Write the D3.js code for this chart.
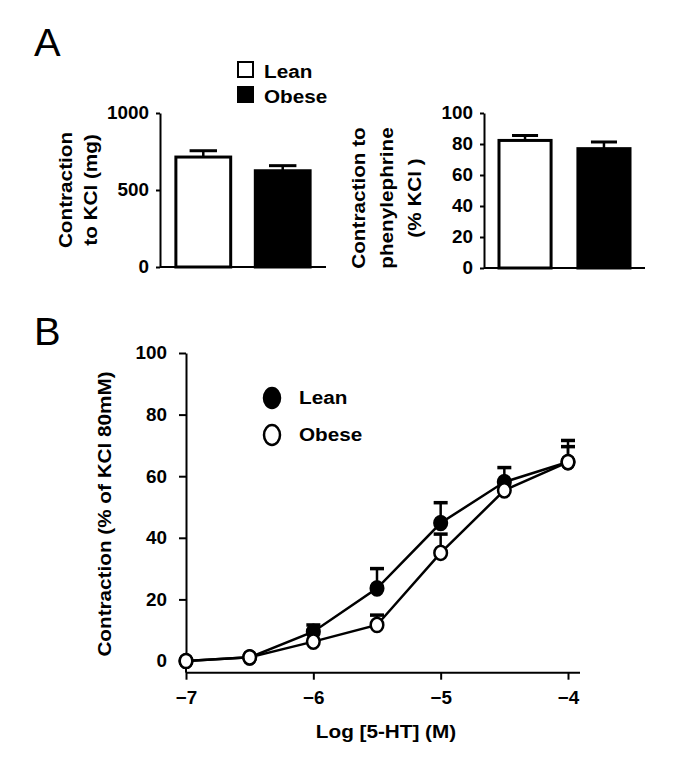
<!DOCTYPE html>
<html><head><meta charset="utf-8">
<script src="https://cdn.jsdelivr.net/npm/d3@7"></script>
<style>body{margin:0;background:#fff}text{font-family:"Liberation Sans",Arial,sans-serif}</style>
</head><body>
<script>
// ---- Data ----
const groups = ["Lean", "Obese"];
const kclMean = [714, 625];
const kclErr = [41, 33];
const pheMean = [82.3, 77];
const pheErr = [3.2, 4.3];
const logConc = [-7, -6.5, -6, -5.5, -5, -4.5, -4];
const leanMean = [0, 1.2, 9.5, 23.6, 44.8, 58.1, 64.6];
const leanErr = [0, 0, 2.2, 6.4, 6.6, 4.7, 7.0];
const obeseMean = [0, 1.2, 6.3, 11.7, 35.1, 55.4, 64.6];
const obeseErr = [0, 0, 0, 3.2, 6.1, 0, 5.0];
const kclTicks = [0, 500, 1000];
const pheTicks = [0, 20, 40, 60, 80, 100];
const crcYTicks = [0, 20, 40, 60, 80, 100];
const crcXTicks = [-7, -6, -5, -4];

const W = 685, H = 767;
const FS = 18.5, SX = 1.12, NSX = 1.02;
const svg = d3.select("body").append("svg").attr("width", W).attr("height", H);

function T(x, y, str, o = {}) {
  const g = svg.append("g").attr("transform",
    `translate(${x},${y}) rotate(${o.rot || 0}) scale(${o.sx || SX},1)`);
  const t = g.append("text").attr("text-anchor", o.anchor || "start")
    .attr("font-size", o.size || FS).attr("font-weight", o.weight || "bold").attr("fill", "#000");
  const lines = Array.isArray(str) ? str : [str];
  lines.forEach((l, i) => t.append("tspan").attr("x", 0).attr("dy", i === 0 ? 0 : (o.gap || 0)).text(l));
  return t;
}

function styleAxis(g) {
  g.selectAll(".domain").attr("stroke", "#000").attr("stroke-width", 2);
  g.selectAll(".tick line").attr("stroke", "#000").attr("stroke-width", 2);
  g.selectAll(".tick text").attr("font-size", FS).attr("font-weight", "bold").attr("fill", "#000")
   .attr("font-family", '"Liberation Sans",Arial,sans-serif')
   .each(function () {
     const s = d3.select(this); const x = +s.attr("x") || 0;
     s.attr("x", 0).attr("transform", `translate(${x},0) scale(${NSX},1)`);
   });
}

// Panel letters
T(34, 56, "A", {size: 38, weight: "normal", sx: 1.05});
T(34, 345, "B", {size: 38, weight: "normal", sx: 1.05});

// ---- Bar chart helper ----
function barChart(opts) {
  const {x0, x1, y0, y1, dom, ticks, means, errs, band} = opts;
  const y = d3.scaleLinear().domain(dom).range([y0, y1]);
  const x = d3.scaleBand().domain(groups).range([x0, x1]).paddingInner(band[0]).paddingOuter(band[1]);
  const g = svg.append("g");
  groups.forEach((k, i) => {
    const cx = x(k) + x.bandwidth() / 2;
    g.append("line").attr("x1", cx).attr("x2", cx).attr("y1", y(means[i])).attr("y2", y(means[i] + errs[i]))
      .attr("stroke", "#000").attr("stroke-width", 2.5);
    g.append("line").attr("x1", cx - x.bandwidth() * 0.25).attr("x2", cx + x.bandwidth() * 0.25)
      .attr("y1", y(means[i] + errs[i])).attr("y2", y(means[i] + errs[i]))
      .attr("stroke", "#000").attr("stroke-width", 3);
  });
  g.selectAll("rect.bar").data(groups).join("rect")
    .attr("x", d => x(d)).attr("width", x.bandwidth())
    .attr("y", (d, i) => y(means[i])).attr("height", (d, i) => y(0) - y(means[i]))
    .attr("fill", (d, i) => i === 0 ? "#fff" : "#000").attr("stroke", "#000").attr("stroke-width", 3);
  const ya = svg.append("g").attr("transform", `translate(${x0},0)`)
    .call(d3.axisLeft(y).tickValues(ticks).tickFormat(d3.format("d")).tickSize(4).tickSizeOuter(0).tickPadding(7));
  styleAxis(ya);
  svg.append("line").attr("x1", x0).attr("x2", x1).attr("y1", y(0)).attr("y2", y(0))
    .attr("stroke", "#000").attr("stroke-width", 2);
  return {x, y};
}

barChart({x0: 160, x1: 326, y0: 267, y1: 113, dom: [0, 1000], ticks: kclTicks,
  means: kclMean, errs: kclErr, band: [0.31, 0.2]});
barChart({x0: 484, x1: 645, y0: 268, y1: 113, dom: [0, 100], ticks: pheTicks,
  means: pheMean, errs: pheErr, band: [0.34, 0.19]});

// Panel A y labels
T(72, 190, ["Contraction", "to KCl (mg)"], {rot: -90, anchor: "middle", gap: 25});
T(365, 198, ["Contraction to", "phenylephrine", "(% KCl )"], {rot: -90, anchor: "middle", gap: 28});

// Panel A legend
groups.forEach((k, i) => {
  svg.append("rect").attr("x", 238).attr("y", 62 + i * 25).attr("width", 15).attr("height", 15)
    .attr("fill", i === 0 ? "#fff" : "#000").attr("stroke", "#000").attr("stroke-width", 2);
  T(264, 77.5 + i * 25, k);
});

// ---- Panel B ----
const xB = d3.scaleLinear().domain([-7, -4]).range([186, 568]);
const yB = d3.scaleLinear().domain([0, 100]).range([661, 353]);
const axisY = yB(-3.8);

const yAx = svg.append("g").attr("transform", `translate(186,0)`)
  .call(d3.axisLeft(yB).tickValues(crcYTicks).tickSize(7).tickSizeOuter(0).tickPadding(12));
styleAxis(yAx);
svg.append("line").attr("x1", 186).attr("x2", 186).attr("y1", yB(0)).attr("y2", axisY).attr("stroke", "#000").attr("stroke-width", 2);
const xAx = svg.append("g").attr("transform", `translate(0,${axisY})`)
  .call(d3.axisBottom(xB).tickValues(crcXTicks).tickFormat(d3.format("d")).tickSize(7).tickSizeOuter(0).tickPadding(11));
styleAxis(xAx);
xAx.select(".domain").attr("d", `M186,0H580`);

const series = [
  {name: "Lean", mean: leanMean, err: leanErr, fill: "#000"},
  {name: "Obese", mean: obeseMean, err: obeseErr, fill: "#fff"}
];
const line = d3.line().x(d => xB(d[0])).y(d => yB(d[1]));
series.forEach(s => {
  const pts = logConc.map((c, i) => [c, s.mean[i], s.err[i]]);
  const g = svg.append("g");
  g.append("path").datum(pts).attr("d", line).attr("fill", "none").attr("stroke", "#000").attr("stroke-width", 2.5);
  pts.filter(p => p[2] > 0).forEach(p => {
    g.append("line").attr("x1", xB(p[0])).attr("x2", xB(p[0])).attr("y1", yB(p[1])).attr("y2", yB(p[1] + p[2]))
      .attr("stroke", "#000").attr("stroke-width", 2.5);
    g.append("line").attr("x1", xB(p[0]) - 7).attr("x2", xB(p[0]) + 7).attr("y1", yB(p[1] + p[2])).attr("y2", yB(p[1] + p[2]))
      .attr("stroke", "#000").attr("stroke-width", 3.5);
  });
  s.g = g; s.pts = pts;
});
series.forEach(s => {
  s.g.selectAll("ellipse").data(s.pts).join("ellipse")
    .attr("cx", d => xB(d[0])).attr("cy", d => yB(d[1])).attr("rx", 6.3).attr("ry", 7.1)
    .attr("fill", s.fill).attr("stroke", "#000").attr("stroke-width", 2.5);
});

// Panel B legend
series.forEach((s, i) => {
  svg.append("ellipse").attr("cx", 272).attr("cy", 398 + i * 37).attr("rx", 8).attr("ry", 10)
    .attr("fill", s.fill).attr("stroke", "#000").attr("stroke-width", 2.5);
  T(299, 404 + i * 37, s.name);
});

// Panel B axis labels
T(111, 514, "Contraction (% of KCl 80mM)", {rot: -90, anchor: "middle"});
T(386, 738, "Log [5-HT] (M)", {anchor: "middle"});
</script>
</body></html>
